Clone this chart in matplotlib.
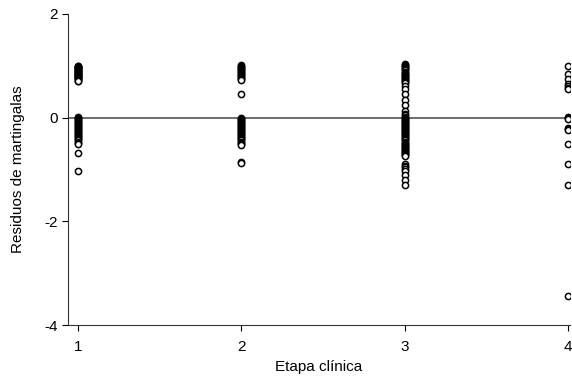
import matplotlib.pyplot as plt
from matplotlib import font_manager

# stage of disease (x) and martingale residuals (y) per patient group
etapa1 = [1.00, 0.99, 0.98, 0.97, 0.96, 0.95, 0.94, 0.93, 0.92, 0.91, 0.90, 0.89,
          0.88, 0.87, 0.86, 0.85, 0.84, 0.83, 0.82, 0.81, 0.80, 0.79, 0.78, 0.77,
          0.76, 0.75, 0.73, 0.71, 0.70,
          0.02, 0.0, -0.02, -0.04, -0.06, -0.08, -0.10, -0.12, -0.14, -0.16, -0.18,
          -0.20, -0.22, -0.24, -0.26, -0.28, -0.30, -0.32, -0.34, -0.36, -0.38,
          -0.40, -0.42, -0.44, -0.46, -0.48, -0.50, -0.68, -1.02]
etapa2 = [1.02, 1.00, 0.98, 0.96, 0.94, 0.92, 0.90, 0.88, 0.86, 0.84, 0.82, 0.80,
          0.78, 0.76, 0.74, 0.72, 0.45,
          0.0, -0.02, -0.04, -0.06, -0.08, -0.10, -0.12, -0.14, -0.16, -0.18, -0.20,
          -0.22, -0.24, -0.26, -0.28, -0.30, -0.32, -0.34, -0.36, -0.38, -0.40,
          -0.42, -0.44, -0.46, -0.48, -0.50, -0.52, -0.85, -0.87]
etapa3 = [1.03, 1.01, 0.99, 0.97, 0.95, 0.93, 0.91, 0.89, 0.87, 0.85, 0.83, 0.81,
          0.79, 0.77, 0.75, 0.73, 0.71, 0.69, 0.67, 0.62, 0.55, 0.45, 0.35, 0.25,
          0.12, 0.08, 0.05, 0.02, 0.0, -0.02, -0.04, -0.06, -0.08, -0.10, -0.12,
          -0.14, -0.16, -0.18, -0.20, -0.22, -0.24, -0.26, -0.28, -0.30, -0.32,
          -0.34, -0.36, -0.38, -0.40, -0.42, -0.44, -0.46, -0.48, -0.50, -0.52,
          -0.54, -0.56, -0.58, -0.60, -0.62, -0.64, -0.66, -0.68, -0.70, -0.72,
          -0.74, -0.90, -0.93, -0.96, -1.00, -1.03, -1.10, -1.20, -1.29]
etapa4 = [1.00, 0.85, 0.74, 0.64, 0.61, 0.58, 0.56, 0.02, 0.0, -0.02, -0.20,
          -0.22, -0.24, -0.50, -0.90, -1.30, -3.45]
grupos = [etapa1, etapa2, etapa3, etapa4]

names = {f.name for f in font_manager.fontManager.ttflist}
fam = 'Liberation Sans Narrow' if 'Liberation Sans Narrow' in names else 'Liberation Sans'
plt.rcParams['font.family'] = [fam, 'DejaVu Sans']
plt.rcParams['axes.unicode_minus'] = False

fig = plt.figure(figsize=(5.72, 3.78), dpi=100)
ax = fig.add_axes([0.1189, 0.1402, 0.8776, 0.8228])

for i, g in enumerate(grupos):
    ax.scatter([i + 1] * len(g), g, s=20, facecolors='white', edgecolors='black',
               linewidths=1.1, zorder=3)

ax.axhline(0, xmin=0, xmax=0.99, color='#444444', linewidth=1.1, zorder=2)

ax.set_xlim(0.94, 4.01)
ax.set_ylim(-4, 2)
ax.set_xticks([1, 2, 3, 4])
ax.set_yticks([-4, -2, 0, 2])
ax.spines['top'].set_visible(False)
ax.spines['right'].set_visible(False)
ax.spines['left'].set_color('#333333')
ax.spines['bottom'].set_color('#333333')
ax.tick_params(direction='out', length=4, labelsize=11, colors='black')
ax.tick_params(axis='x', pad=7)
ax.set_xlabel('Etapa clínica', fontsize=11, labelpad=4)
ax.set_ylabel('Residuos de martingalas', fontsize=11, labelpad=14)

plt.savefig('out.png', dpi=100)
